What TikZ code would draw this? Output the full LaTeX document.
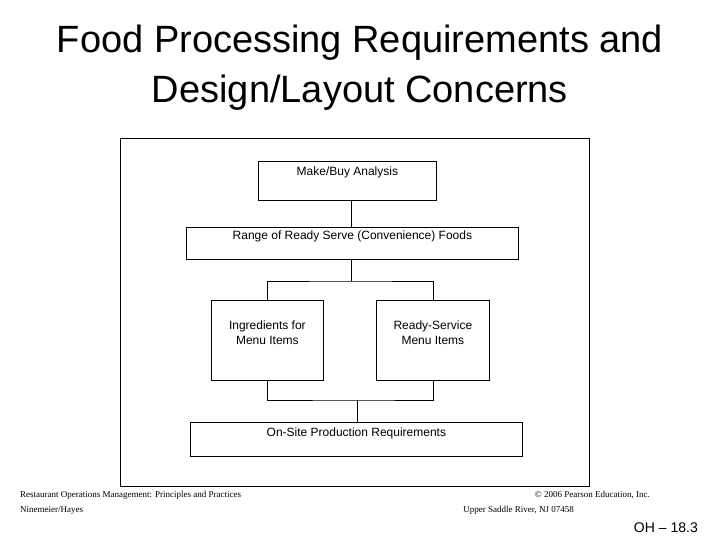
\documentclass[tikz,border=0pt]{standalone}
\usepackage{fontspec}
\setmainfont{Liberation Sans}
\newfontfamily\footfont{Liberation Serif}
\begin{document}
\begin{tikzpicture}[x=1pt,y=1pt,yscale=-1,xscale=1,
    box/.style={draw,line width=0.8pt,inner sep=0pt,anchor=north west},
    boxtext/.style={anchor=north,inner sep=0pt,align=center,font=\fontsize{12}{15}\selectfont},
    foot/.style={inner sep=0pt,font=\footfont\fontsize{9}{11}\selectfont}]
    \useasboundingbox (0,0) rectangle (720,540);

    % Title
    \node [inner sep=0pt,align=center,font=\fontsize{38}{50}\selectfont] (title) at (360,68) {Food Processing Requirements and\\Design/Layout Concerns};

    % Frame
    \draw [line width=0.8pt] (120,138) rectangle (589,486);

    % Boxes
    \node [box,minimum width=178,minimum height=39] (makebuy) at (258,161) {};
    \node [box,minimum width=332,minimum height=32] (range) at (186,227) {};
    \node [box,minimum width=112,minimum height=80] (ingred) at (211,300) {};
    \node [box,minimum width=113,minimum height=80] (ready) at (376,300) {};
    \node [box,minimum width=332,minimum height=34] (onsite) at (190,422) {};

    % Text
    \node [boxtext] at ([yshift=6]makebuy.north) {Make/Buy Analysis};
    \node [boxtext] at ([yshift=4]range.north) {Range of Ready Serve (Convenience) Foods};
    \node [boxtext] at ([yshift=21]ingred.north) {Ingredients for\\Menu Items};
    \node [boxtext] at ([yshift=21]ready.north) {Ready-Service\\Menu Items};
    \node [boxtext] at ([yshift=6]onsite.north) {On-Site Production Requirements};

    % Connectors
    \coordinate (split) at (351,281);
    \coordinate (join) at (357,400);
    \draw [line width=0.8pt] (makebuy.south -| split) -- (range.north -| split);
    \draw [line width=0.8pt] (range.south -| split) -- (split);
    \draw [line width=0.8pt] (ingred.north) |- (split) -| (ready.north);
    \draw [line width=0.8pt] (ingred.south) |- (join) -| (ready.south);
    \draw [line width=0.8pt] (join) -- (onsite.north -| join);

    % Footer
    \node [foot,anchor=west] (fl1) at (20,495) {Restaurant Operations Management: Principles and Practices};
    \node [foot,anchor=west] (fl2) at (20,510) {Ninemeier/Hayes};
    \node [foot,anchor=east] (fr1) at (650,495) {© 2006 Pearson Education, Inc.};
    \node [foot,anchor=east] (fr2) at (574,510) {Upper Saddle River, NJ 07458};
    \node [inner sep=0pt,anchor=east,font=\fontsize{14}{16}\selectfont] (oh) at (698,528) {OH -- 18.3};
\end{tikzpicture}
\end{document}
